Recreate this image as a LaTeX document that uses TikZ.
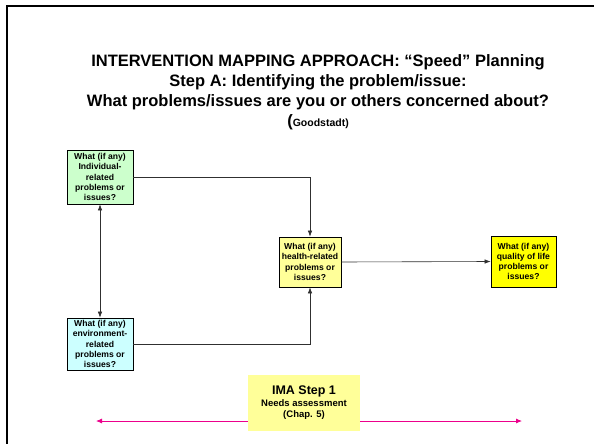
\documentclass[tikz,border=0pt]{standalone}
\usepackage{fontspec}
\setmainfont{Liberation Sans}
\usetikzlibrary{arrows.meta}
\definecolor{indgreen}{HTML}{CCFFCC}
\definecolor{envcyan}{HTML}{CCFFFF}
\definecolor{paleyellow}{HTML}{FFFF99}
\definecolor{brightyellow}{HTML}{FFFF00}
\definecolor{linkgray}{HTML}{303030}
\begin{document}
\begin{tikzpicture}[x=1pt,y=-1pt,
  qbox/.style={draw=black, line width=0.8pt, inner sep=0pt, align=center,
    font=\fontsize{8.6}{10.2}\selectfont\bfseries},
  link/.style={draw=linkgray, line width=0.6pt, -{Latex[length=6pt,width=4.5pt]}},
  twoway/.style={draw=linkgray, line width=0.6pt, {Latex[length=6pt,width=4.5pt]}-{Latex[length=6pt,width=4.5pt]}},
  span/.style={draw=magenta, line width=0.8pt, {Latex[length=6pt,width=5pt]}-{Latex[length=6pt,width=5pt]}}]
\useasboundingbox (0,0) rectangle (594,444);
\fill[white] (0,0) rectangle (594,444);
% partial page frame
\draw[black, line width=2pt] (6.5,444) -- (6.5,6) -- (594,6);

% title block
\node (title) at (318,92.5) [align=center, font=\fontsize{16.5}{20}\selectfont\bfseries] {%
  INTERVENTION MAPPING APPROACH: “Speed” Planning\\
  Step A: Identifying the problem/issue:\\
  What problems/issues are you or others concerned about?\\
  ({\fontsize{10.5}{20}\selectfont Goodstadt)}};

% question boxes
\node[qbox, fill=indgreen, minimum width=66pt, minimum height=54pt] (ind) at (100,177)
  {What (if any)\\Individual-\\related\\problems or\\issues?};
\node[qbox, fill=envcyan, minimum width=66pt, minimum height=52pt] (env) at (100,344)
  {What (if any)\\environment-\\related\\problems or\\issues?};
\node[qbox, fill=paleyellow, minimum width=62pt, minimum height=50pt] (health) at (310,262)
  {What (if any)\\health-related\\problems or\\issues?};
\node[qbox, fill=brightyellow, minimum width=65pt, minimum height=51pt] (qol) at (523.5,261.5)
  {What (if any)\\quality of life\\problems or\\issues?};

% connectors between questions
\draw[twoway] (ind.south) -- (env.north);
\draw[link] (ind.east) -| (health.north);
\draw[link] (env.east) -| (health.south);
\draw[link] (health.east) -- (qol.west);

% needs assessment span
\coordinate (spanL) at (96,421);
\coordinate (spanR) at (522,421);
\draw[span] (spanL) -- (spanR);
\node[fill=paleyellow, minimum width=112pt, minimum height=56pt, inner sep=0pt, align=center] (ima) at (304,403)
  {{\fontsize{12.5}{14}\selectfont\bfseries IMA Step 1}\\[-0.5pt]
   {\fontsize{9.5}{14}\selectfont\bfseries Needs assessment}\\[-0.5pt]
   {\fontsize{9.5}{14}\selectfont\bfseries (Chap. 5)}};
\end{tikzpicture}
\end{document}
